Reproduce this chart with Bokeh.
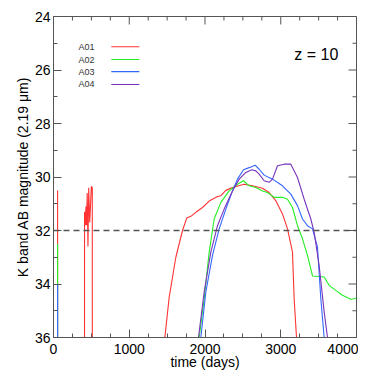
from bokeh.plotting import figure
from bokeh.models import Range1d, FixedTicker, Span, Label
from bokeh.embed import file_html
from bokeh.resources import INLINE
from bokeh.core.properties import value

# ---- data (time in days, K-band AB magnitude); 99 = off chart ----
t_a01 = [54, 56, 405, 410, 420, 428, 436, 445, 455, 465, 478, 500, 512, 518,
         1440, 1470, 1527, 1615, 1703, 1760, 1813, 1879, 1967, 2055, 2165, 2209,
         2275, 2363, 2517, 2627, 2759, 2847, 2935, 3023, 3089, 3155, 3177, 3208, 3230]
m_a01 = [30.5, 99, 99, 31.3, 31.8, 31.1, 31.8, 30.6, 32.6, 30.4, 31.7, 30.35, 30.4, 99,
         37.0, 36.0, 34.5, 33.0, 32.0, 31.53, 31.47, 31.32, 31.14, 30.9, 30.73, 30.7,
         30.5, 30.39, 30.27, 30.33, 30.42, 30.58, 30.89, 31.38, 31.94, 32.81, 34.55, 36.0, 37.0]

t_a02 = [54, 56, 1900, 1923, 1989, 2055, 2121, 2209, 2319, 2429, 2508, 2583, 2671, 2759,
         2825, 2913, 3023, 3089, 3155, 3221, 3287, 3353, 3419, 3507, 3573, 3639, 3727,
         3815, 3925, 3969, 4000]
m_a02 = [32.5, 99, 36.5, 36.0, 34.55, 32.81, 31.57, 30.95, 30.52, 30.27, 30.14, 30.33,
         30.39, 30.52, 30.58, 30.76, 30.76, 30.83, 31.14, 31.82, 32.31, 32.93, 33.7,
         33.72, 33.74, 34.05, 34.24, 34.42, 34.57, 34.55, 34.52]

t_a03 = [54, 56, 1925, 1945, 2011, 2099, 2187, 2275, 2363, 2429, 2508, 2583, 2662, 2715,
         2781, 2891, 3023, 3133, 3221, 3287, 3353, 3419, 3485, 3529, 3573, 3590]
m_a03 = [34.0, 99, 36.5, 36.0, 34.3, 32.93, 31.94, 31.2, 30.52, 30.08, 29.73, 29.65,
         29.56, 29.71, 29.93, 30.08, 30.33, 30.64, 31.07, 31.57, 31.82, 31.94, 32.62,
         34.55, 36.0, 37.0]

t_a04 = [1895, 1914, 1989, 2077, 2165, 2253, 2363, 2451, 2539, 2618, 2671, 2715, 2781,
         2847, 2891, 2957, 3045, 3133, 3221, 3309, 3397, 3441, 3507, 3573, 3617, 3630]
m_a04 = [36.5, 36.0, 34.3, 32.81, 31.82, 31.2, 30.52, 30.08, 29.83, 29.73, 29.77, 29.89,
         30.14, 30.2, 30.08, 29.58, 29.52, 29.52, 30.02, 30.83, 31.57, 32.07, 33.31,
         35.04, 36.0, 37.0]

names = ["A01", "A02", "A03", "A04"]
colors = ["#ff3333", "#22ee22", "#3366ff", "#7733bb"]
series_t = [t_a01, t_a02, t_a03, t_a04]
series_m = [m_a01, m_a02, m_a03, m_a04]

x_major = [0, 1000, 2000, 3000, 4000]
x_minor = [v for v in range(0, 4001, 250) if v % 1000]
y_major = [24, 26, 28, 30, 32, 34, 36]
y_minor = [25, 27, 29, 31, 33, 35]
limit_mag = 32
redshift_text = "z = 10"

FONT = "Liberation Sans"
AX = "#555555"
X0, X1, Y0, Y1 = 0, 4000, 36, 24
FW, FH = 303, 321
MAJ, MIN = 8, 4

p = figure(frame_width=FW, frame_height=FH, output_backend="svg", toolbar_location=None,
           x_range=Range1d(X0, X1), y_range=Range1d(Y0, Y1),
           x_axis_label="time (days)", y_axis_label="K band AB magnitude (2.19 \u03bcm)",
           min_border_left=53, min_border_right=2, min_border_top=16, min_border_bottom=10)
p.background_fill_color = "white"
p.border_fill_color = "white"
p.outline_line_color = AX
p.xgrid.visible = False
p.ygrid.visible = False

p.xaxis.ticker = FixedTicker(ticks=x_major, minor_ticks=x_minor)
p.yaxis.ticker = FixedTicker(ticks=y_major, minor_ticks=y_minor)

for ax in p.xaxis + p.yaxis:
    ax.axis_line_color = AX
    ax.major_tick_line_color = AX
    ax.minor_tick_line_color = AX
    ax.major_tick_in = MAJ
    ax.major_tick_out = 0
    ax.minor_tick_in = MIN
    ax.minor_tick_out = 0
    ax.major_label_text_font = FONT
    ax.major_label_text_font_size = "14px"
    ax.major_label_text_color = "black"
    ax.axis_label_text_font = FONT
    ax.axis_label_text_font_size = "14px"
    ax.axis_label_text_font_style = "normal"
    ax.axis_label_text_color = "black"
p.xaxis.major_label_standoff = 6
p.xaxis.axis_label_standoff = -3
p.yaxis.major_label_standoff = 3
p.yaxis.axis_label_standoff = 1

# mirrored ticks on the top and right edges
dy = (Y0 - Y1) / FH
dx = (X1 - X0) / FW
p.segment(x0=x_major, y0=[Y1] * len(x_major), x1=x_major, y1=[Y1 + MAJ * dy] * len(x_major),
          line_color=AX, line_width=1)
p.segment(x0=x_minor, y0=[Y1] * len(x_minor), x1=x_minor, y1=[Y1 + MIN * dy] * len(x_minor),
          line_color=AX, line_width=1)
p.segment(x0=[X1] * len(y_major), y0=y_major, x1=[X1 - MAJ * dx] * len(y_major), y1=y_major,
          line_color=AX, line_width=1)
p.segment(x0=[X1] * len(y_minor), y0=y_minor, x1=[X1 - MIN * dx] * len(y_minor), y1=y_minor,
          line_color=AX, line_width=1)

p.add_layout(Span(location=limit_mag, dimension="width", line_color="#555555",
                  line_width=1.6, line_dash="6 4"))

for t, m, c in zip(series_t, series_m, colors):
    p.line(t, m, line_color=c, line_width=1.1)

# legend: labels on the left, line samples on the right
leg_y = [25.13, 25.61, 26.06, 26.54]
p.text(x=[330] * 4, y=leg_y, text=names, text_font=value(FONT), text_font_size="9px",
       text_color="#333333", text_baseline="middle", text_align="left")
for yy, c in zip(leg_y, colors):
    p.line([763, 1133], [yy, yy], line_color=c, line_width=1.1)

p.add_layout(Label(x=3760, y=25.42, text=redshift_text, text_font=FONT, text_font_size="16px",
                   text_align="right", text_baseline="middle", text_color="black"))

open("out.html", "w").write(file_html(p, INLINE))
